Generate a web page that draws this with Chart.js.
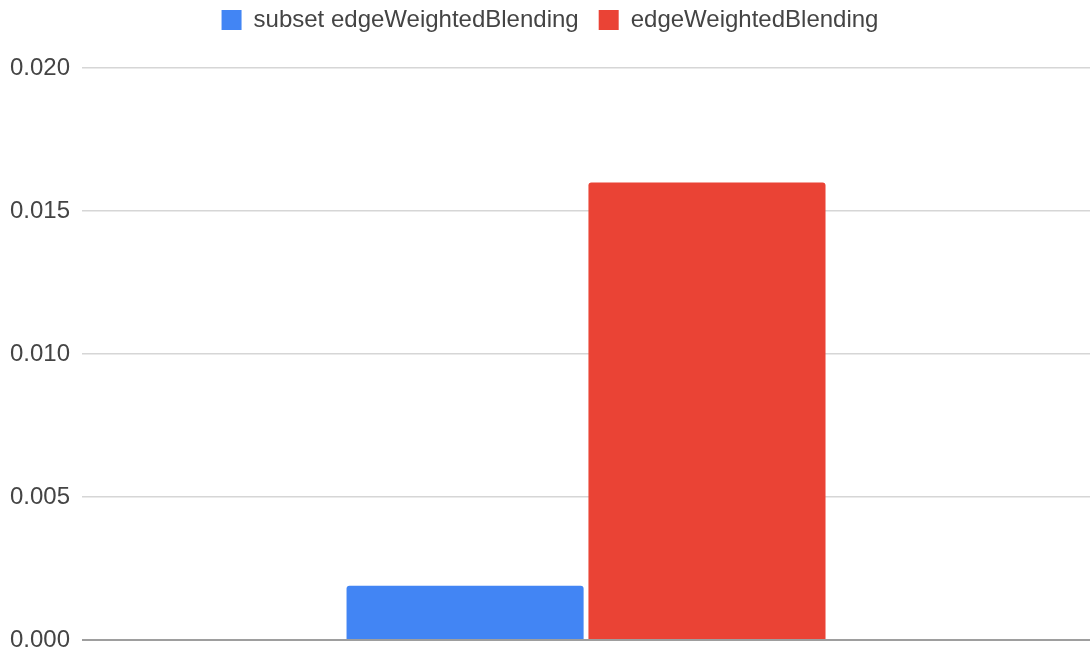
<!DOCTYPE html>
<html>
<head>
<meta charset="utf-8">
<script src="https://cdn.jsdelivr.net/npm/chart.js@4/dist/chart.umd.min.js"></script>
<style>
  html, body { margin: 0; padding: 0; background: #ffffff; }
  #wrap { width: 1090px; height: 652px; position: relative; }
</style>
</head>
<body>
<div id="wrap"><canvas id="chart"></canvas></div>
<script>
// Chart data
const categories = [''];
const seriesNames = ['subset edgeWeightedBlending', 'edgeWeightedBlending'];
const subsetValues = [0.0019];
const fullValues = [0.016];
const yMin = 0;
const yMax = 0.02;
const yStep = 0.005;

const FONT = '"Liberation Sans", Arial, sans-serif';

// Legend sits near the top edge; the plot area starts further down
const legendPlacement = {
  id: 'legendPlacement',
  beforeInit(chart) {
    const legend = chart.legend;
    const origFit = legend.fit;
    legend.fit = function () {
      origFit.bind(legend)();
      this.height += 14;
    };
    const origDraw = legend.draw;
    legend.draw = function () {
      const c = this.ctx;
      c.save();
      c.translate(0, -12);
      origDraw.call(legend);
      c.restore();
    };
  }
};

new Chart(document.getElementById('chart'), {
  type: 'bar',
  data: {
    labels: categories,
    datasets: [
      {
        label: seriesNames[0],
        data: subsetValues,
        backgroundColor: '#4285F4',
        borderRadius: 3,
        categoryPercentage: 0.48,
        barPercentage: 0.98
      },
      {
        label: seriesNames[1],
        data: fullValues,
        backgroundColor: '#EA4335',
        borderRadius: 3,
        categoryPercentage: 0.48,
        barPercentage: 0.98
      }
    ]
  },
  options: {
    responsive: true,
    maintainAspectRatio: false,
    animation: false,
    layout: { padding: { left: 10, right: 0, top: 0, bottom: 0 } },
    plugins: {
      tooltip: { enabled: false },
      legend: {
        position: 'top',
        align: 'center',
        labels: {
          boxWidth: 20,
          boxHeight: 20,
          padding: 20,
          color: '#444444',
          font: { family: FONT, size: 24 }
        }
      }
    },
    scales: {
      x: {
        display: false
      },
      y: {
        min: yMin,
        max: yMax,
        border: { display: false },
        afterFit: (scale) => { scale.width += 12; },
        grid: {
          drawTicks: false,
          tickLength: 0,
          color: (ctx) => (ctx.tick && ctx.tick.value === 0 ? '#9e9e9e' : '#d6d6d6'),
          lineWidth: (ctx) => (ctx.tick && ctx.tick.value === 0 ? 2 : 1.5)
        },
        ticks: {
          stepSize: yStep,
          padding: 0,
          crossAlign: 'far',
          color: '#444444',
          font: { family: FONT, size: 24, lineHeight: 1 },
          callback: (v) => Number(v).toFixed(3)
        }
      }
    }
  },
  plugins: [legendPlacement]
});
</script>
</body>
</html>
